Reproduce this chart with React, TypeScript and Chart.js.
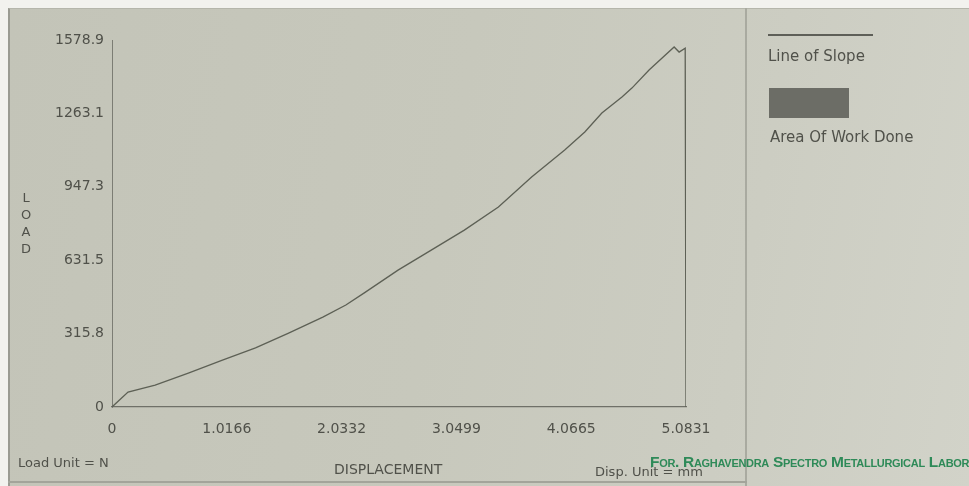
import React, { useEffect, useRef } from "react";
import { Chart, registerables } from "chart.js";

Chart.register(...registerables);

const displacement = [0, 0.142, 0.382, 0.676, 0.978, 1.271, 1.564, 1.867, 2.071, 2.231, 2.533, 2.827, 3.12, 3.422, 3.716, 4.009, 4.187, 4.338, 4.516, 4.604, 4.756, 4.978, 5.022, 5.076, 5.0831];
const load = [0, 64.5, 94.6, 146, 202, 254, 318, 387, 439, 490, 589, 675, 761, 860, 989, 1106, 1183, 1265, 1334, 1372, 1450, 1549, 1527, 1544, 0];

const xTickValues = [0, 1.0166, 2.0332, 3.0499, 4.0665, 5.0831];
const xTickLabels = ["0", "1.0166", "2.0332", "3.0499", "4.0665", "5.0831"];
const yTickValues = [0, 315.8, 631.5, 947.3, 1263.1, 1578.9];
const yTickLabels = ["0", "315.8", "631.5", "947.3", "1263.1", "1578.9"];

const yTitleLetters = ["L", "O", "A", "D"];
const xTitle = "DISPLACEMENT";
const loadUnit = "Load Unit = N";
const dispUnit = "Disp. Unit = mm";
const legendLine = "Line of Slope";
const legendArea = "Area Of Work Done";
const stampText = "For. Raghavendra Spectro Metallurgical Laboratory";

const FONT = "'DejaVu Sans', sans-serif";
const TEXT = "#50514a";

export default function App() {
  const canvasRef = useRef<HTMLCanvasElement | null>(null);

  useEffect(() => {
    const ctx = canvasRef.current;
    if (!ctx) return;
    const chart = new Chart(ctx, {
      type: "line",
      data: {
        datasets: [
          {
            label: "Load",
            data: displacement.map((d, i) => ({ x: d, y: load[i] })),
            borderColor: "#5d6055",
            borderWidth: 1.3,
            pointRadius: 0,
            tension: 0,
            fill: false,
          },
        ],
      },
      options: {
        animation: false,
        responsive: false,
        maintainAspectRatio: false,
        layout: { padding: { left: 0, right: 283, top: 40, bottom: 0 } },
        plugins: { legend: { display: false }, tooltip: { enabled: false } },
        scales: {
          x: {
            type: "linear",
            min: 0,
            max: 5.0831,
            afterBuildTicks: (scale: any) => {
              scale.ticks = xTickValues.map((v) => ({ value: v }));
            },
            afterFit: (scale: any) => {
              scale.height = 79;
            },
            ticks: {
              autoSkip: false,
              maxRotation: 0,
              padding: 14,
              color: TEXT,
              font: { family: FONT, size: 14 },
              callback: (_v: any, i: number) => xTickLabels[i],
            },
            grid: { display: false, drawTicks: false },
            border: { display: true, color: "#6f7068", width: 1.2 },
          },
          y: {
            type: "linear",
            min: 0,
            max: 1578.9,
            afterBuildTicks: (scale: any) => {
              scale.ticks = yTickValues.map((v) => ({ value: v }));
            },
            afterFit: (scale: any) => {
              scale.width = 112;
            },
            ticks: {
              autoSkip: false,
              padding: 8,
              color: TEXT,
              font: { family: FONT, size: 14 },
              callback: (_v: any, i: number) => yTickLabels[i],
            },
            grid: { display: false, drawTicks: false },
            border: { display: true, color: "#7c7d74", width: 1 },
          },
        },
      },
    });
    return () => chart.destroy();
  }, []);

  const txt: React.CSSProperties = {
    position: "absolute",
    fontFamily: FONT,
    color: TEXT,
    whiteSpace: "nowrap",
    lineHeight: 1,
  };

  return (
    <div
      style={{
        position: "fixed",
        left: 0,
        top: 0,
        width: 969,
        height: 486,
        overflow: "hidden",
        background: "#f2f2ee",
      }}
    >
      <div
        style={{
          position: "absolute",
          left: 8,
          top: 8,
          width: 961,
          height: 478,
          background: "linear-gradient(100deg, #c3c4b8 0%, #c7c8bc 45%, #cccdc2 75%, #d2d3c9 100%)",
          borderLeft: "2px solid #9a9b92",
          borderTop: "1px solid #b5b6ab",
        }}
      />
      <div style={{ position: "absolute", left: 745, top: 8, width: 2, height: 478, background: "#a9aaa0" }} />
      <div style={{ position: "absolute", left: 8, top: 481, width: 739, height: 2, background: "#a3a49a" }} />
      <canvas ref={canvasRef} width={969} height={486} style={{ position: "absolute", left: 0, top: 0, width: 969, height: 486 }} />
      {yTitleLetters.map((c, i) => (
        <div key={i} style={{ ...txt, left: 20, top: 191 + i * 17, fontSize: 13, width: 12, textAlign: "center" }}>
          {c}
        </div>
      ))}
      <div style={{ ...txt, left: 18, top: 456, fontSize: 13 }}>{loadUnit}</div>
      <div style={{ ...txt, left: 334, top: 462, fontSize: 14 }}>{xTitle}</div>
      <div style={{ ...txt, left: 595, top: 465, fontSize: 13 }}>{dispUnit}</div>
      <div style={{ position: "absolute", left: 768, top: 34, width: 105, height: 2, background: "#5e5f58" }} />
      <div style={{ ...txt, left: 768, top: 49, fontSize: 15 }}>{legendLine}</div>
      <div style={{ position: "absolute", left: 769, top: 88, width: 80, height: 30, background: "#6c6d66" }} />
      <div style={{ ...txt, left: 770, top: 130, fontSize: 15 }}>{legendArea}</div>
      <div
        style={{
          ...txt,
          left: 650,
          top: 454,
          fontSize: 15.5,
          fontWeight: 700,
          fontVariant: "small-caps",
          fontFamily: "'Liberation Sans Narrow', 'Liberation Sans', sans-serif",
          color: "#2e8a58",
          letterSpacing: -0.3,
        }}
      >
        {stampText}
      </div>
    </div>
  );
}
